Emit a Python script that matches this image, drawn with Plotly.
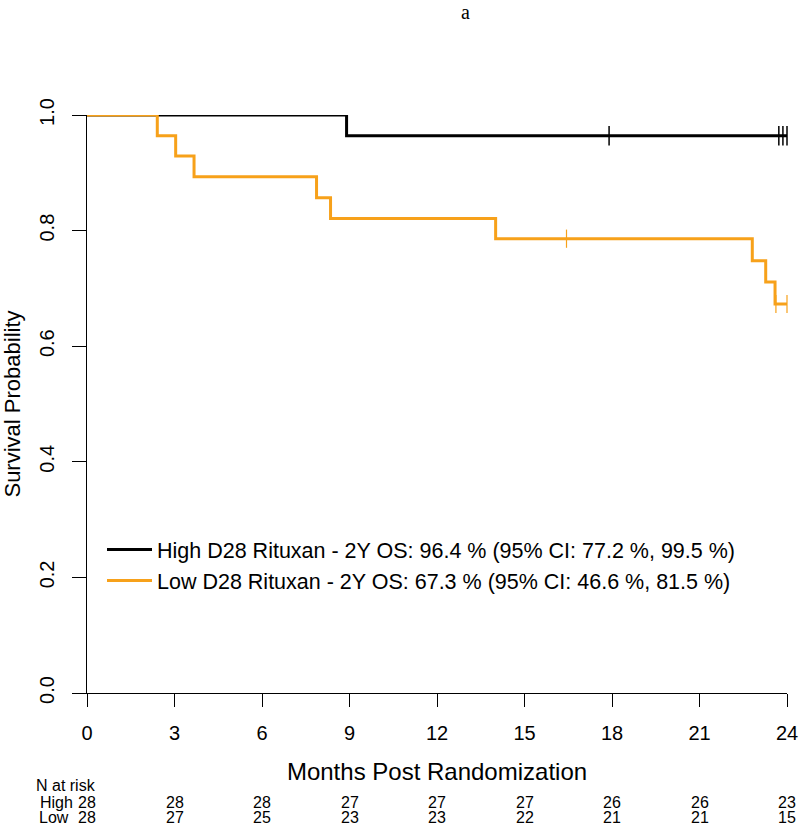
import plotly.graph_objects as go

# ---- data ----
high_time = [0, 8.9, 24.0]
high_surv = [1.0, 0.964, 0.964]
high_cens_time = [17.9, 23.72, 23.86, 24.0]
high_cens_surv = [0.964, 0.964, 0.964, 0.964]

low_time = [0, 2.41, 3.04, 3.67, 7.87, 8.35, 14.01, 22.81, 23.27, 23.59, 24.0]
low_surv = [1.0, 0.964, 0.929, 0.893, 0.857, 0.821, 0.786, 0.748, 0.711, 0.673, 0.673]
low_cens_time = [16.44, 23.62, 24.0]
low_cens_surv = [0.786, 0.673, 0.673]

risk_times = [0, 3, 6, 9, 12, 15, 18, 21, 24]
risk_high = [28, 28, 28, 27, 27, 27, 26, 26, 23]
risk_low = [28, 27, 25, 23, 23, 22, 21, 21, 15]

high_label = "High D28 Rituxan - 2Y OS: 96.4 % (95% CI: 77.2 %, 99.5 %)"
low_label = "Low D28 Rituxan - 2Y OS: 67.3 % (95% CI: 46.6 %, 81.5 %)"

BLACK = "#000000"
ORANGE = "#F7A11A"
FONT = "Liberation Sans, Arial, sans-serif"

fig = go.Figure()
fig.add_trace(go.Scatter(x=high_time, y=high_surv, mode="lines", line=dict(shape="hv", color=BLACK, width=3),
                         name=high_label, cliponaxis=False, legendgroup="h"))
fig.add_trace(go.Scatter(x=low_time, y=low_surv, mode="lines", line=dict(shape="hv", color=ORANGE, width=3),
                         name=low_label, cliponaxis=False, legendgroup="l"))
fig.add_trace(go.Scatter(x=high_cens_time, y=high_cens_surv, mode="markers", showlegend=False, cliponaxis=False,
                         marker=dict(symbol="line-ns", size=14, line=dict(color=BLACK, width=1.5))))
fig.add_trace(go.Scatter(x=low_cens_time, y=low_cens_surv, mode="markers", showlegend=False, cliponaxis=False,
                         marker=dict(symbol="line-ns", size=13, line=dict(color=ORANGE, width=1.2))))

L, R, T, B = 87, 13, 115, 133
W, H = 800, 826
PW = W - L - R
PH = H - T - B

def px_to_paper_x(px):
    return (px - L) / PW

def px_to_paper_y(py):
    return (H - B - py) / PH

TF = dict(size=16, family=FONT, color="black")
annotations = []
# risk table
annotations.append(dict(text="N at risk", x=px_to_paper_x(66), y=px_to_paper_y(785), xref="paper", yref="paper",
                        showarrow=False, xanchor="center", yanchor="middle", font=TF, borderpad=0))
annotations.append(dict(text="High", x=px_to_paper_x(74), y=px_to_paper_y(802), xref="paper", yref="paper",
                        showarrow=False, xanchor="right", yanchor="middle", font=TF, borderpad=0))
annotations.append(dict(text="Low", x=px_to_paper_x(70), y=px_to_paper_y(817), xref="paper", yref="paper",
                        showarrow=False, xanchor="right", yanchor="middle", font=TF, borderpad=0))
for t, h, l in zip(risk_times, risk_high, risk_low):
    annotations.append(dict(text=str(h), x=t, y=px_to_paper_y(802), xref="x", yref="paper", showarrow=False,
                            xanchor="center", yanchor="middle", font=TF, borderpad=0))
    annotations.append(dict(text=str(l), x=t, y=px_to_paper_y(817), xref="x", yref="paper", showarrow=False,
                            xanchor="center", yanchor="middle", font=TF, borderpad=0))
# title "a"
annotations.append(dict(text="a", x=px_to_paper_x(465), y=px_to_paper_y(12), xref="paper", yref="paper",
                        showarrow=False, xanchor="center", yanchor="middle",
                        font=dict(size=20, family="Liberation Serif, Times New Roman, serif", color="black")))

fig.update_layout(
    width=W, height=H,
    margin=dict(l=L, r=R, t=T, b=B, autoexpand=False),
    plot_bgcolor="white", paper_bgcolor="white",
    font=dict(family=FONT, color="black"),
    showlegend=True,
    legend=dict(x=px_to_paper_x(102), y=px_to_paper_y(529), xanchor="left", yanchor="top",
                font=dict(size=21.5, family=FONT, color="black"), bgcolor="rgba(0,0,0,0)",
                tracegroupgap=0, itemwidth=45),
    annotations=annotations,
    xaxis=dict(range=[0, 24], tickvals=risk_times, ticktext=[str(t) for t in risk_times],
               showline=True, linecolor="black", linewidth=1, ticks="outside", ticklen=13, tickcolor="black",
               showgrid=False, zeroline=False, tickfont=dict(size=20, family=FONT, color="black"),
               title=dict(text="Months Post Randomization", font=dict(size=24, family=FONT, color="black"), standoff=20),
               ticklabelstandoff=9),
    yaxis=dict(range=[0, 1], tickvals=[0, 0.2, 0.4, 0.6, 0.8, 1.0], ticktext=["0.0", "0.2", "0.4", "0.6", "0.8", "1.0"],
               showline=True, linecolor="black", linewidth=1, ticks="outside", ticklen=14, tickcolor="black",
               showgrid=False, zeroline=False, tickangle=-90, tickfont=dict(size=20, family=FONT, color="black"),
               title=dict(text="Survival Probability", font=dict(size=22, family=FONT, color="black"), standoff=10),
               ticklabelstandoff=10),
)

fig.write_html("out.html", config={"displayModeBar": False},
               post_script="document.body.style.margin='0';document.body.style.overflow='hidden';")
